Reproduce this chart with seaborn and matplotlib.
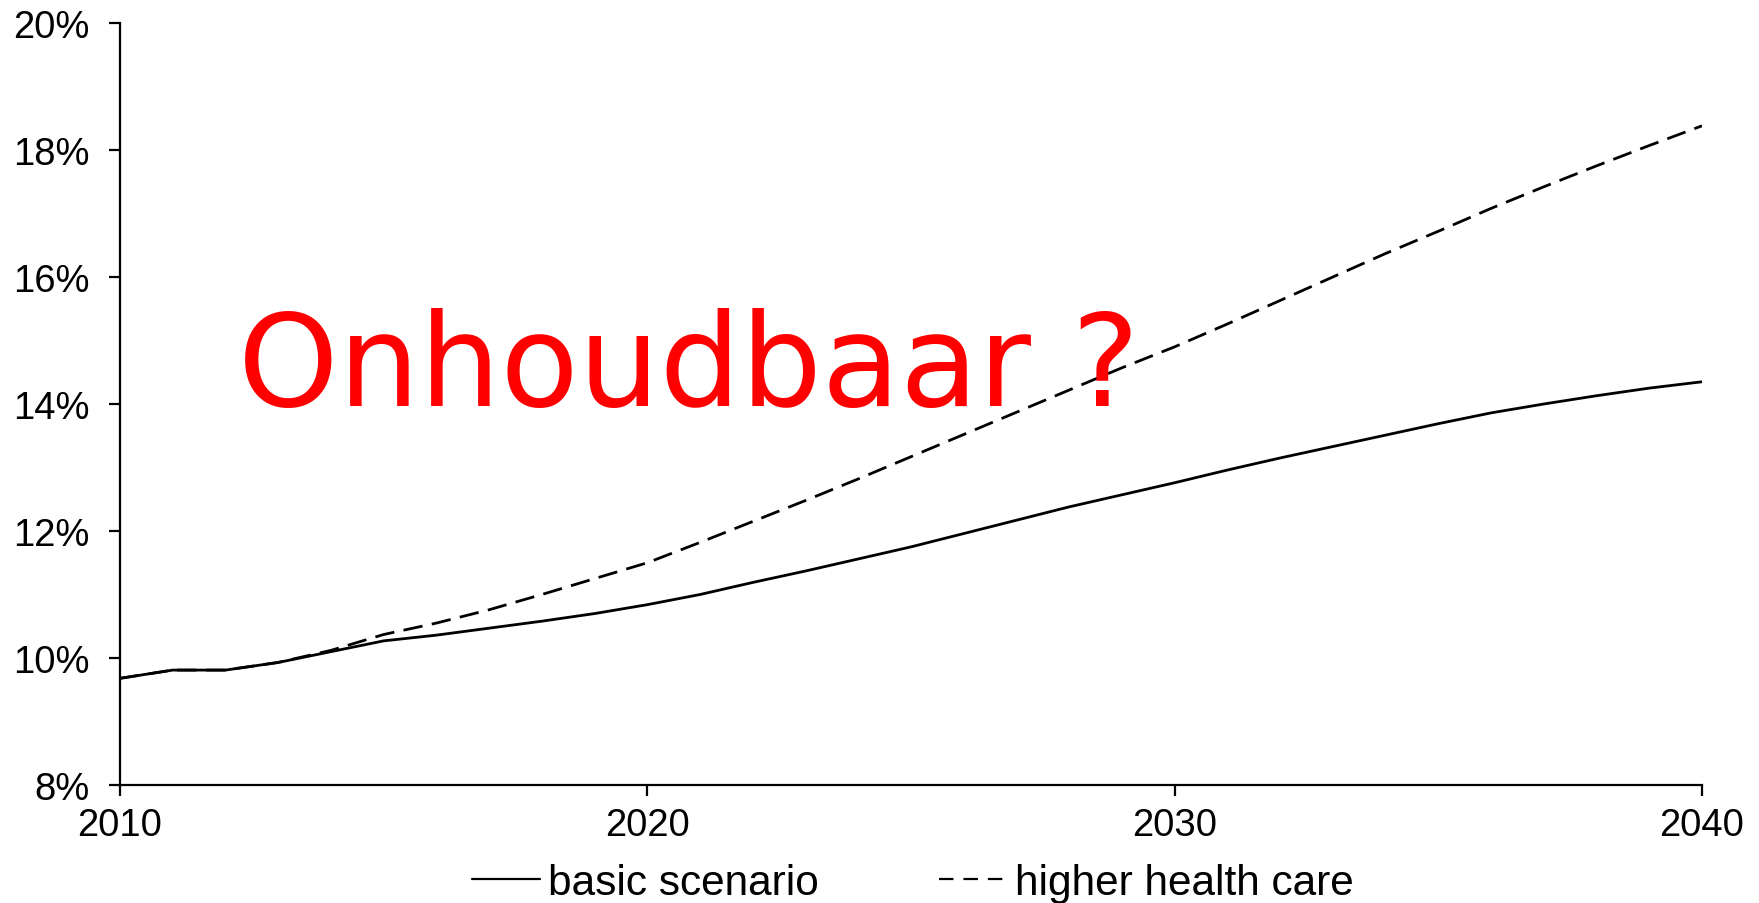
import pandas as pd
import seaborn as sns
import matplotlib.pyplot as plt
from matplotlib.ticker import FuncFormatter

# Values (share, in %)
years = list(range(2010, 2041))
basic = [9.68, 9.81, 9.81, 9.93, 10.10, 10.27, 10.36, 10.47, 10.58, 10.70,
         10.84, 11.00, 11.19, 11.37, 11.56, 11.75, 11.96, 12.17, 12.38, 12.57,
         12.76, 12.96, 13.15, 13.33, 13.51, 13.69, 13.86, 14.00, 14.13, 14.25,
         14.35]
higher = [9.68, 9.81, 9.81, 9.93, 10.12, 10.37, 10.55, 10.76, 11.00, 11.25,
          11.50, 11.82, 12.15, 12.48, 12.82, 13.17, 13.52, 13.87, 14.22, 14.57,
          14.90, 15.26, 15.63, 16.00, 16.37, 16.72, 17.08, 17.42, 17.75, 18.07,
          18.38]
series_names = ['basic scenario', 'higher health care']
x_ticks = [2010, 2020, 2030, 2040]
y_ticks = [8, 10, 12, 14, 16, 18, 20]
annotation = 'Onhoudbaar ?'

df = pd.DataFrame({
    'year': years * 2,
    'value': basic + higher,
    'scenario': [series_names[0]] * len(years) + [series_names[1]] * len(years),
})

sns.set_style('ticks')
plt.rcParams['font.family'] = ['Liberation Sans', 'DejaVu Sans']

fig = plt.figure(figsize=(17.59, 9.04), dpi=100)
ax = fig.add_axes([0.0682, 0.1305, 0.8994, 0.843])

sns.lineplot(data=df, x='year', y='value', hue='scenario', style='scenario',
             palette=['black', 'black'], dashes=[(1, 0), (7, 3.4)],
             linewidth=2.0, ax=ax, legend=False)

ax.set_xlim(2010, 2040)
ax.set_ylim(8, 20)
ax.set_xticks(x_ticks)
ax.set_yticks(y_ticks)
ax.yaxis.set_major_formatter(FuncFormatter(lambda v, p: f'{v:.0f}%'))
ax.set_xlabel('')
ax.set_ylabel('')
sns.despine(ax=ax)
for s in ['left', 'bottom']:
    ax.spines[s].set_linewidth(1.6)
    ax.spines[s].set_color('black')
ax.tick_params(axis='both', direction='out', length=8, width=1.6,
               labelsize=27.5, colors='black')
ax.tick_params(axis='y', pad=14)
ax.tick_params(axis='x', pad=8)

ax.text(2012.24, 13.98, annotation, color='red', fontsize=92,
        family='DejaVu Sans', va='baseline', ha='left')

handles = [plt.Line2D([], [], color='black', lw=1.6),
           plt.Line2D([], [], color='black', lw=1.6, dashes=(6.5, 4.5))]
fig.legend(handles, series_names, loc='center', bbox_to_anchor=(0.519, 0.022),
           ncol=2, frameon=False, fontsize=30.5, labelcolor='black',
           handlelength=1.6, handletextpad=0.18, columnspacing=2.85)

fig.savefig('out.png', dpi=100)
